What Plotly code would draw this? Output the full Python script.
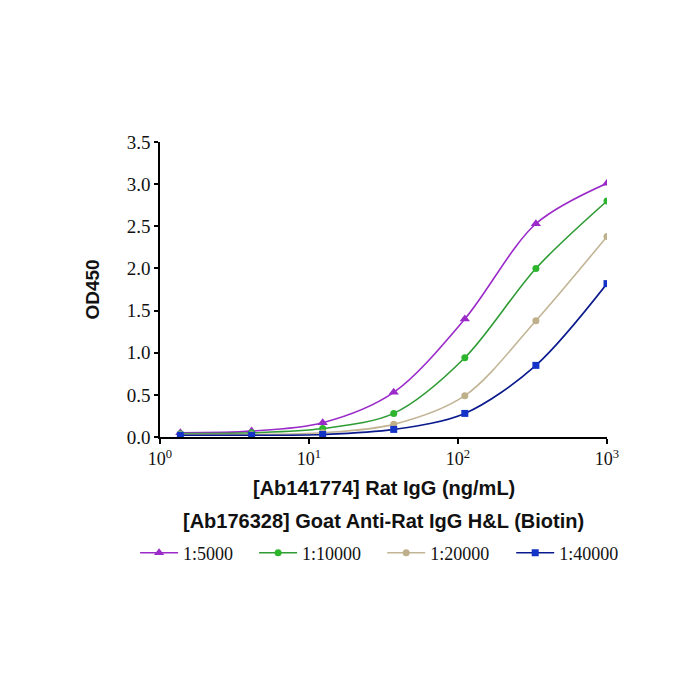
import plotly.graph_objects as go

conc = [1.37, 4.12, 12.35, 37.04, 111.1, 333.3, 1000]
series_names = ["1:5000", "1:10000", "1:20000", "1:40000"]
od_5000 = [0.05, 0.07, 0.17, 0.53, 1.40, 2.53, 3.01]
od_10000 = [0.04, 0.05, 0.10, 0.28, 0.94, 2.00, 2.80]
od_20000 = [0.03, 0.03, 0.05, 0.15, 0.49, 1.38, 2.38]
od_40000 = [0.02, 0.02, 0.03, 0.09, 0.28, 0.85, 1.82]
x_tickvals = [1, 10, 100, 1000]
x_ticktext = ["10<sup>0</sup>", "10<sup>1</sup>", "10<sup>2</sup>", "10<sup>3</sup>"]
y_tickvals = [0, 0.5, 1.0, 1.5, 2.0, 2.5, 3.0, 3.5]
x_title_1 = "[Ab141774] Rat IgG (ng/mL)"
x_title_2 = "[Ab176328] Goat Anti-Rat IgG H&L (Biotin)"

styles = [
    dict(line="#9A2BC8", marker="#9A2BC8", symbol="triangle-up", size=9, legend="legend"),
    dict(line="#2E9B34", marker="#2DB52D", symbol="circle", size=7, legend="legend"),
    dict(line="#C2B596", marker="#BFB08C", symbol="circle", size=7, legend="legend2"),
    dict(line="#0A1A8C", marker="#1434C8", symbol="square", size=7, legend="legend2"),
]

fig = go.Figure()
for name, ys, st in zip(series_names, [od_5000, od_10000, od_20000, od_40000], styles):
    fig.add_trace(go.Scatter(
        x=conc, y=ys, name=name, mode="lines+markers", legend=st["legend"],
        line=dict(color=st["line"], width=1.6, shape="spline", smoothing=0.9),
        marker=dict(color=st["marker"], symbol=st["symbol"], size=st["size"]),
    ))

serif = "Liberation Serif, Times New Roman, serif"
sans = "Liberation Sans, Arial, sans-serif"

legend_common = dict(orientation="h", xref="container", yref="container",
                     xanchor="left", y=0.21, yanchor="middle",
                     font=dict(family=serif, size=18, color="#111"),
                     itemwidth=38, traceorder="normal", bgcolor="rgba(0,0,0,0)")

fig.update_layout(
    width=700, height=700,
    margin=dict(l=160, r=93, t=142, b=263),
    paper_bgcolor="white", plot_bgcolor="white",
    showlegend=True,
    legend=dict(legend_common, x=0.193, entrywidth=66),
    legend2=dict(legend_common, x=0.546, entrywidth=76),
    xaxis=dict(
        type="log", range=[0, 3],
        tickvals=x_tickvals, ticktext=x_ticktext,
        showgrid=False, zeroline=False,
        showline=True, linecolor="black", linewidth=1.5,
        ticks="outside", ticklen=5, tickwidth=1.5, tickcolor="black",
        tickfont=dict(family=serif, size=18, color="#111"),
    ),
    yaxis=dict(
        range=[0, 3.5], tickvals=y_tickvals, tickformat=".1f",
        showgrid=False, zeroline=False,
        showline=True, linecolor="black", linewidth=1.5,
        ticks="outside", ticklen=4, tickwidth=1.5, tickcolor="black",
        tickfont=dict(family=serif, size=19, color="#111"),
        title=dict(text="<b>OD450</b>", font=dict(family=sans, size=19, color="#111"), standoff=22),
    ),
    annotations=[
        dict(text="<b>" + x_title_1 + "</b>", xref="paper", yref="paper", x=0.5, y=-0.173,
             xanchor="center", yanchor="middle", showarrow=False,
             font=dict(family=sans, size=20, color="#111")),
        dict(text="<b>" + x_title_2.replace("&", "&amp;") + "</b>", xref="paper", yref="paper", x=0.5, y=-0.285,
             xanchor="center", yanchor="middle", showarrow=False,
             font=dict(family=sans, size=20, color="#111")),
    ],
)

fig.write_html("out.html")
